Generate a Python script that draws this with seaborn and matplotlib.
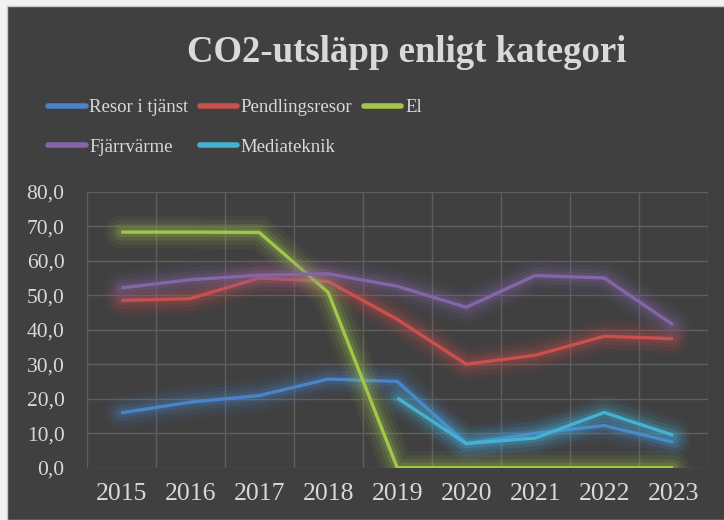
import matplotlib
matplotlib.use("Agg")
import matplotlib.pyplot as plt
import matplotlib.patheffects as pe
from matplotlib.patches import Rectangle
from matplotlib.ticker import FixedLocator
import numpy as np
import pandas as pd
import seaborn as sns

# data
years = [2015, 2016, 2017, 2018, 2019, 2020, 2021, 2022, 2023]
resor_i_tjanst = [15.9, 19.0, 20.9, 25.7, 25.0, 7.0, 10.0, 12.2, 7.4]
pendlingsresor = [48.5, 49.0, 55.0, 54.0, 43.0, 30.0, 32.6, 38.1, 37.4]
el = [68.3, 68.3, 68.2, 50.8, 0.0, 0.0, 0.0, 0.0, 0.0]
fjarrvarme = [52.1, 54.5, 55.8, 56.2, 52.6, 46.5, 55.7, 55.0, 41.4]
mediateknik = [np.nan, np.nan, np.nan, np.nan, 20.2, 7.0, 8.6, 16.0, 9.4]

series_names = ["Resor i tjänst", "Pendlingsresor", "El", "Fjärrvärme", "Mediateknik"]
series_colors = ["#4a84c6", "#c9504d", "#a2c64a", "#8466a8", "#45b2d0"]
y_ticks = [0, 10, 20, 30, 40, 50, 60, 70, 80]
y_labels = ["0,0", "10,0", "20,0", "30,0", "40,0", "50,0", "60,0", "70,0", "80,0"]
title = "CO2-utsläpp enligt kategori"

df = pd.DataFrame({
    "year": years,
    "Resor i tjänst": resor_i_tjanst,
    "Pendlingsresor": pendlingsresor,
    "El": el,
    "Fjärrvärme": fjarrvarme,
    "Mediateknik": mediateknik,
})
long = df.melt(id_vars="year", var_name="serie", value_name="co2").dropna()

sns.set_style("dark")
plt.rcParams["font.family"] = ["Liberation Serif", "DejaVu Serif"]

bg = "#404040"
grid_c = "#5e5e5e"
text_c = "#d9d9d9"

fig = plt.figure(figsize=(7.24, 5.2), dpi=100, facecolor="#f2f2f2")
fig.patches.append(Rectangle((7 / 724, 0), 1, 1 - 6 / 520, transform=fig.transFigure,
                             facecolor=bg, edgecolor="#c8c8c8", linewidth=1, zorder=0))
ax = fig.add_axes([0.1198, 0.1006, 0.8577, 0.5307])
ax.set_zorder(2)
ax.set_facecolor(bg)

palette = dict(zip(series_names, series_colors))
sns.lineplot(data=long, x="year", y="co2", hue="serie", hue_order=series_names,
             palette=palette, linewidth=2.4, ax=ax, legend=False, zorder=3)

# soft glow round each line
for line, c in zip(ax.lines, series_colors):
    line.set_solid_capstyle("butt")
    line.set_path_effects([
        pe.Stroke(linewidth=24, foreground=c, alpha=0.06, capstyle="round", joinstyle="round"),
        pe.Stroke(linewidth=18, foreground=c, alpha=0.09, capstyle="round", joinstyle="round"),
        pe.Stroke(linewidth=12, foreground=c, alpha=0.13, capstyle="round", joinstyle="round"),
        pe.Stroke(linewidth=7, foreground=c, alpha=0.18, capstyle="round", joinstyle="round"),
        pe.Normal(),
    ])

ax.set_xlim(years[0] - 0.5, years[-1] + 0.5)
ax.set_ylim(0, 80)
ax.set_xticks(years)
ax.set_xticklabels([str(y) for y in years])
ax.xaxis.set_minor_locator(FixedLocator([y - 0.5 for y in years] + [years[-1] + 0.5]))
ax.set_yticks(y_ticks)
ax.set_yticklabels(y_labels)
ax.grid(False)
ax.grid(True, axis="y", which="major", color=grid_c, linewidth=1)
ax.grid(True, axis="x", which="minor", color=grid_c, linewidth=1)
ax.tick_params(axis="both", which="both", length=0, colors=text_c)
ax.tick_params(axis="x", labelsize=18.5, pad=11)
ax.tick_params(axis="y", labelsize=15.5, pad=16)
for s in ax.spines.values():
    s.set_visible(False)
ax.set_xlabel("")
ax.set_ylabel("")

fig.text(407 / 724, 1 - 53 / 520, title, ha="center", va="center",
         fontsize=26.5, fontweight="bold", color=text_c)

# legend fills column by column, so reorder to get the reference's row order
order = [0, 3, 1, 4, 2]
handles = [plt.Line2D([], [], color=series_colors[i], linewidth=4) for i in order]
labels = [series_names[i] for i in order]
fig.legend(handles, labels, ncol=3, loc="upper left",
           bbox_to_anchor=(48 / 724, 1 - 99 / 520), frameon=False, fontsize=13.5,
           labelcolor=text_c, handlelength=2.0, handletextpad=0.2, columnspacing=0.6,
           labelspacing=1.2, borderpad=0, borderaxespad=0)

fig.savefig("out.png", dpi=100, facecolor=fig.get_facecolor())
